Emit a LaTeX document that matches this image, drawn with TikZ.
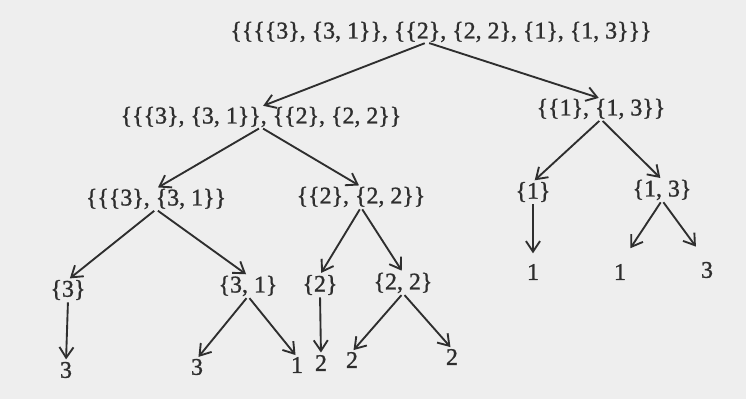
\documentclass[tikz,border=0pt]{standalone}
\usepackage{fontspec}
\setmainfont{Liberation Serif}[BoldFont={Liberation Serif},
  BoldFeatures={FakeBold=1.2}]
\usetikzlibrary{arrows.meta}
\definecolor{ink}{HTML}{2E2E2E}
\definecolor{paper}{HTML}{EEEEEE}
\begin{document}
\begin{tikzpicture}[x=0.03cm, y=-0.03cm,
  set/.style={font=\fontsize{20.4}{24}\selectfont\bfseries, text=ink,
    inner sep=0pt},
  edge/.style={draw=ink, line width=1.6pt,
    -{Straight Barb[length=9pt, width=12pt]},
    shorten <=2pt, shorten >=2pt},
  far/.style={shorten >=16pt}]
  % the scanned page, it also fixes the margins
  \fill[paper] (0,0) rectangle (746,399);
  % ---------- the whole family ----------
  \node[set] (all) at (441,32)
    {\{\{\{\{3\}, \{3, 1\}\}, \{\{2\}, \{2, 2\}, \{1\}, \{1, 3\}\}\}};
  % ---------- first split ----------
  \node[set] (s3122) at (261,117)
    {\{\{\{3\}, \{3, 1\}\}, \{\{2\}, \{2, 2\}\}};
  \node[set] (s113) at (601,109) {\{\{1\}, \{1, 3\}\}};
  % ---------- second split ----------
  \node[set] (s331) at (156,199) {\{\{\{3\}, \{3, 1\}\}};
  \node[set] (s222) at (361,197) {\{\{2\}, \{2, 2\}\}};
  \node[set] (s1) at (533,192) {\{1\}};
  \node[set] (s13) at (662,190) {\{1, 3\}};
  % ---------- single sets ----------
  \node[set] (s3) at (68,290) {\{3\}};
  \node[set] (s31) at (248,286) {\{3, 1\}};
  \node[set] (s2) at (320,285) {\{2\}};
  \node[set] (s22) at (403,283) {\{2, 2\}};
  % ---------- elements ----------
  \node[set] (v3a) at (66,370) {3};
  \node[set] (v3b) at (197,367) {3};
  \node[set] (v1a) at (297,365) {1};
  \node[set] (v2a) at (321,363) {2};
  \node[set] (v2b) at (352,360) {2};
  \node[set] (v2c) at (452,357) {2};
  \node[set] (v1b) at (533,272) {1};
  \node[set] (v1c) at (620,272) {1};
  \node[set] (v3c) at (707,270) {3};
  % arrows, parent to child
  \draw[edge] ([xshift=-12]all.south) -- (s3122.north);
  \draw[edge] ([xshift=-12]all.south) -- (s113.north);
  \draw[edge] (s3122.south) -- (s331.north);
  \draw[edge] (s3122.south) -- (s222.north);
  \draw[edge] (s113.south) -- (s1.north);
  \draw[edge] (s113.south) -- (s13.north);
  \draw[edge] (s331.south) -- (s3.north);
  \draw[edge] (s331.south) -- (s31.north);
  \draw[edge] (s222.south) -- (s2.north);
  \draw[edge] (s222.south) -- (s22.north);
  \draw[edge] (s3.south) -- (v3a.north);
  \draw[edge] (s31.south) -- (v3b.north);
  \draw[edge] (s31.south) -- (v1a.north);
  \draw[edge] (s2.south) -- (v2a.north);
  \draw[edge] (s22.south) -- (v2b.north);
  \draw[edge] (s22.south) -- (v2c.north);
  \draw[edge, shorten >=9pt] (s1.south) -- (v1b.north);
  \draw[edge, far] (s13.south) -- (v1c.north);
  \draw[edge, far] (s13.south) -- (v3c.north);
\end{tikzpicture}
\end{document}
